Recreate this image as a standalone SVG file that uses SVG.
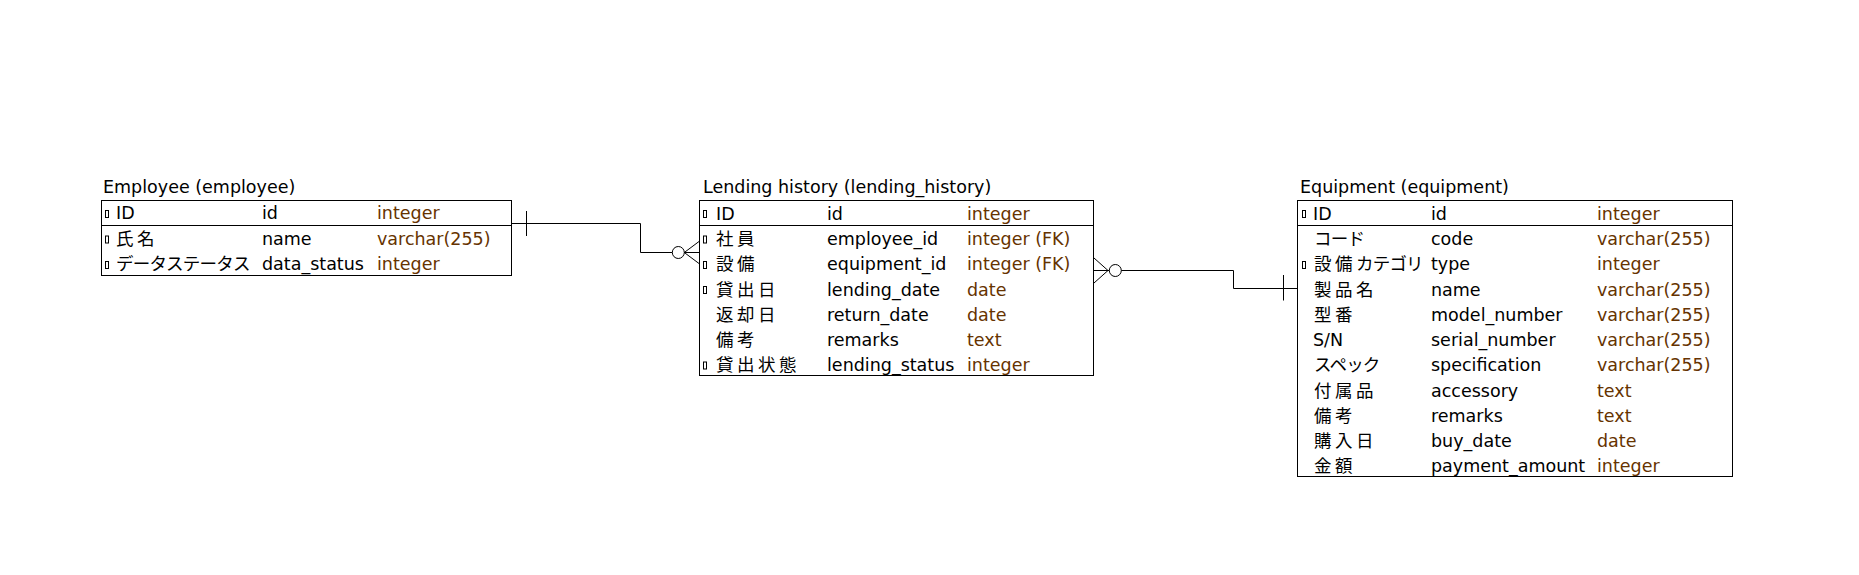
<svg xmlns="http://www.w3.org/2000/svg" width="1859" height="575" viewBox="0 0 1859 575">
<style>
text{font-family:"DejaVu Sans","Noto Sans CJK JP",sans-serif;font-size:17.5px;fill:#000}
.t{fill:#663300}
.k{letter-spacing:3.5px}
.kt{letter-spacing:-0.8px}
.box{fill:#fff;stroke:#000;stroke-width:1}
.ln{fill:none;stroke:#000;stroke-width:1}
.ic{fill:none;stroke:#000;stroke-width:1}
</style>
<rect width="1859" height="575" fill="#fff"/>
<g id="connectors">
<path class="ln" d="M512,223.5 H640.5 V252.5 H672.3"/>
<path class="ln" d="M526.5,211 V236"/>
<circle class="ln" cx="678.3" cy="252.5" r="6"/>
<path class="ln" d="M684.3,252.5 L699,241.5 M684.3,252.5 H699 M684.3,252.5 L699,263.5"/>
<path class="ln" d="M1094,258 L1108,270.5 L1094,283 M1094,270.5 H1109.3"/>
<circle class="ln" cx="1115.3" cy="270.5" r="6"/>
<path class="ln" d="M1121.3,270.5 H1233.5 V288.5 H1297"/>
<path class="ln" d="M1283.5,275 V300.5"/>
</g>
<g id="employee">
<text x="103" y="193">Employee (employee)</text>
<rect class="box" x="101.5" y="200.5" width="410" height="75"/>
<path class="ln" d="M101.5,225.5 H511.5"/>
<rect class="ic" x="105.5" y="210.5" width="3" height="7"/>
<text x="116" y="219">ID</text><text x="262" y="219">id</text><text class="t" x="377" y="219">integer</text>
<rect class="ic" x="105.5" y="236" width="3" height="7"/>
<text class="k" x="116" y="244.5">氏名</text><text x="262" y="244.5">name</text><text class="t" x="377" y="244.5">varchar(255)</text>
<rect class="ic" x="105.5" y="261.5" width="3" height="7"/>
<text class="kt" x="116" y="270">データステータス</text><text x="262" y="270">data_status</text><text class="t" x="377" y="270">integer</text>
</g>
<g id="lending_history">
<text x="703" y="193">Lending history (lending_history)</text>
<rect class="box" x="699.5" y="200.5" width="394" height="175"/>
<path class="ln" d="M699.5,225.5 H1093.5"/>
<rect class="ic" x="703.5" y="210.5" width="3" height="7"/>
<text x="716" y="219.5">ID</text><text x="827" y="219.5">id</text><text class="t" x="967" y="219.5">integer</text>
<rect class="ic" x="703.5" y="236" width="3" height="7"/>
<text class="k" x="716" y="245">社員</text><text x="827" y="245">employee_id</text><text class="t" x="967" y="245">integer (FK)</text>
<rect class="ic" x="703.5" y="261.5" width="3" height="7"/>
<text class="k" x="716" y="270.3">設備</text><text x="827" y="270.3">equipment_id</text><text class="t" x="967" y="270.3">integer (FK)</text>
<rect class="ic" x="703.5" y="286.5" width="3" height="7"/>
<text class="k" x="716" y="295.5">貸出日</text><text x="827" y="295.5">lending_date</text><text class="t" x="967" y="295.5">date</text>
<text class="k" x="716" y="320.5">返却日</text><text x="827" y="320.5">return_date</text><text class="t" x="967" y="320.5">date</text>
<text class="k" x="716" y="345.5">備考</text><text x="827" y="345.5">remarks</text><text class="t" x="967" y="345.5">text</text>
<rect class="ic" x="703.5" y="362" width="3" height="7"/>
<text class="k" x="716" y="370.5">貸出状態</text><text x="827" y="370.5">lending_status</text><text class="t" x="967" y="370.5">integer</text>
</g>
<g id="equipment">
<text x="1300" y="193">Equipment (equipment)</text>
<rect class="box" x="1297.5" y="200.5" width="435" height="276"/>
<path class="ln" d="M1297.5,225.5 H1732.5"/>
<rect class="ic" x="1302.5" y="210.5" width="3" height="7"/>
<text x="1313" y="219.5">ID</text><text x="1431" y="219.5">id</text><text class="t" x="1597" y="219.5">integer</text>
<text class="kt" x="1314" y="245">コード</text><text x="1431" y="245">code</text><text class="t" x="1597" y="245">varchar(255)</text>
<rect class="ic" x="1302.5" y="261.5" width="3" height="7"/>
<text x="1314" y="270.3"><tspan class="k">設備</tspan><tspan class="kt">カテゴリ</tspan></text><text x="1431" y="270.3">type</text><text class="t" x="1597" y="270.3">integer</text>
<text class="k" x="1314" y="295.5">製品名</text><text x="1431" y="295.5">name</text><text class="t" x="1597" y="295.5">varchar(255)</text>
<text class="k" x="1314" y="320.7">型番</text><text x="1431" y="320.7">model_number</text><text class="t" x="1597" y="320.7">varchar(255)</text>
<text x="1313" y="346">S/N</text><text x="1431" y="346">serial_number</text><text class="t" x="1597" y="346">varchar(255)</text>
<text class="kt" x="1314" y="371">スペック</text><text x="1431" y="371">specification</text><text class="t" x="1597" y="371">varchar(255)</text>
<text class="k" x="1314" y="396.5">付属品</text><text x="1431" y="396.5">accessory</text><text class="t" x="1597" y="396.5">text</text>
<text class="k" x="1314" y="421.7">備考</text><text x="1431" y="421.7">remarks</text><text class="t" x="1597" y="421.7">text</text>
<text class="k" x="1314" y="446.8">購入日</text><text x="1431" y="446.8">buy_date</text><text class="t" x="1597" y="446.8">date</text>
<text class="k" x="1314" y="472">金額</text><text x="1431" y="472">payment_amount</text><text class="t" x="1597" y="472">integer</text>
</g>
</svg>
